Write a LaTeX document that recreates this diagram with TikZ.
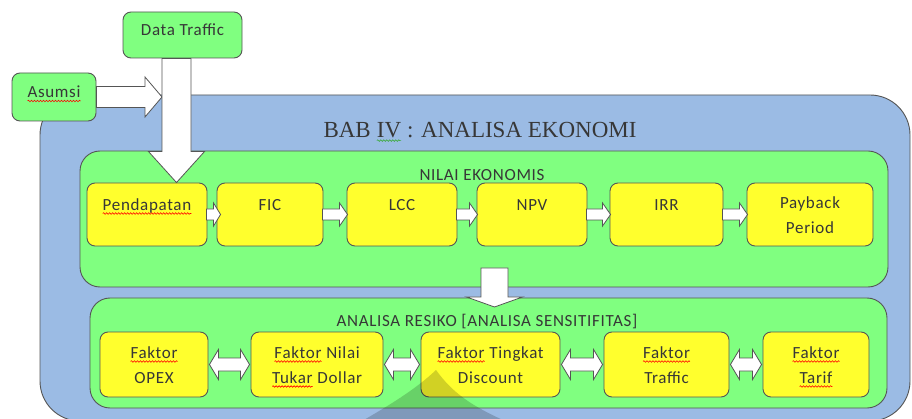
\documentclass[tikz,border=0pt]{standalone}
\usepackage{fontspec}
\setmainfont{Carlito}
\newfontfamily\labelfont[LetterSpace=4]{Carlito}
\newfontfamily\titlefont{Liberation Serif}
\usetikzlibrary{calc,decorations.pathmorphing}

\definecolor{frameblue}{RGB}{155,187,228}
\definecolor{panelgreen}{RGB}{128,255,128}
\definecolor{boxyellow}{RGB}{255,255,45}
\definecolor{edgegray}{RGB}{85,85,85}
\definecolor{inkgray}{RGB}{55,55,55}
\definecolor{spellgreen}{RGB}{60,170,60}

\newcommand\boxfont{\labelfont\fontsize{17}{25}\selectfont}

% a word with a wavy proof-reading underline in colour #1
\newcommand\wavy[2]{\tikz[baseline=(w.base)]{%
  \node[draw=none, fill=none, inner sep=0pt, outer sep=0pt, minimum width=0pt,
        minimum height=0pt, text height=, text depth=, rounded corners=0pt] (w) {#2};
  \draw[#1, line width=0.6pt, rounded corners=0pt, decorate,
        decoration={snake, amplitude=0.8pt, segment length=3pt}]
    ([yshift=-3pt]w.base west) -- ([yshift=-3pt]w.base east);}}

% horizontal block arrow from #1 to #2 (shaft half-height #3, head half-height #4, head length #5)
\newcommand\blockright[5]{%
  \path[blockarrow] let \p1=(#1), \p2=(#2) in
    (\x1,\y1+#3) -- (\x2-#5,\y1+#3) -- (\x2-#5,\y1+#4) -- (\x2,\y1)
    -- (\x2-#5,\y1-#4) -- (\x2-#5,\y1-#3) -- (\x1,\y1-#3) -- cycle;}
% double-headed block arrow between #1 and #2
\newcommand\blockboth[5]{%
  \path[blockarrow] let \p1=(#1), \p2=(#2) in
    (\x1,\y1) -- (\x1+#5,\y1+#4) -- (\x1+#5,\y1+#3) -- (\x2-#5,\y1+#3)
    -- (\x2-#5,\y1+#4) -- (\x2,\y1) -- (\x2-#5,\y1-#4) -- (\x2-#5,\y1-#3)
    -- (\x1+#5,\y1-#3) -- (\x1+#5,\y1-#4) -- cycle;}
% downward block arrow from #1 to #2
\newcommand\blockdown[5]{%
  \path[blockarrow] let \p1=(#1), \p2=(#2) in
    (\x1-#3,\y1) -- (\x1-#3,\y2+#5) -- (\x1-#4,\y2+#5) -- (\x1,\y2)
    -- (\x1+#4,\y2+#5) -- (\x1+#3,\y2+#5) -- (\x1+#3,\y1) -- cycle;}

\tikzset{
  frame/.style={draw=edgegray, fill=frameblue, line width=0.9pt, rounded corners=40pt},
  panel/.style={draw=edgegray, fill=panelgreen, line width=0.9pt, rounded corners=20pt},
  stepbox/.style={draw=edgegray, fill=boxyellow, line width=0.9pt, rounded corners=8pt,
    inner sep=0pt, align=center, font=\boxfont, text=inkgray},
  oneline/.style={text height=11pt, text depth=19pt},
  twoline/.style={text height=38pt, text depth=0pt},
  inputbox/.style={draw=edgegray, fill=panelgreen, line width=0.9pt, rounded corners=8pt,
    inner sep=0pt, align=center, font=\boxfont, text=inkgray, text height=11pt, text depth=9pt},
  blockarrow/.style={draw=edgegray, fill=white, line width=0.8pt, line join=miter},
  heading/.style={font=\titlefont\fontsize{23}{28}\selectfont, text=inkgray, inner sep=0pt},
  paneltitle/.style={font=\boxfont, text=inkgray, inner sep=0pt},
}

\begin{document}
\begin{tikzpicture}[x=1pt, y=-1pt]
\useasboundingbox (0,0) rectangle (912,419);
\fill[white] (0,0) rectangle (912,419);

% outer chapter frame and its title
\draw[frame] (40,95) rectangle (910,421);
\node[heading] (bab) at (480,132) {BAB \wavy{spellgreen}{IV} : ANALISA EKONOMI};

% economic value panel
\draw[panel] (80,151) rectangle (888,287);
\node[paneltitle] (nilai) at (482,175) {NILAI EKONOMIS};

\node[stepbox, oneline, minimum width=120pt, minimum height=63pt] (pend) at (147,214.5) {\wavy{red}{Pendapatan}};
\node[stepbox, oneline, minimum width=106pt, minimum height=63pt] (fic)  at (270,214.5) {FIC};
\node[stepbox, oneline, minimum width=110pt, minimum height=63pt] (lcc)  at (402,214.5) {LCC};
\node[stepbox, oneline, minimum width=110pt, minimum height=63pt] (npv)  at (532,214.5) {NPV};
\node[stepbox, oneline, minimum width=113pt, minimum height=63pt] (irr)  at (666.5,214.5) {IRR};
\node[stepbox, twoline, minimum width=126pt, minimum height=63pt] (pay)  at (810,214.5) {Payback\\Period};

\blockright{[xshift=-1pt]pend.east}{[xshift=4pt]fic.west}{5.5pt}{11.5pt}{7pt}
\blockright{[xshift=-1pt]fic.east}{[xshift=1pt]lcc.west}{5.5pt}{11.5pt}{8pt}
\blockright{[xshift=-1pt]lcc.east}{[xshift=1pt]npv.west}{5.5pt}{11.5pt}{8pt}
\blockright{[xshift=-1pt]npv.east}{[xshift=1pt]irr.west}{5.5pt}{11.5pt}{8pt}
\blockright{[xshift=-1pt]irr.east}{[xshift=1pt]pay.west}{5.5pt}{11.5pt}{8pt}

% risk / sensitivity panel
\draw[panel] (90,298) rectangle (887,408);
\node[paneltitle] (resiko) at (487,322) {ANALISA RESIKO [ANALISA SENSITIFITAS]};

\node[stepbox, twoline, minimum width=108pt, minimum height=65pt] (opex)  at (154,364.5) {\wavy{red}{Faktor}\\OPEX};
\node[stepbox, twoline, minimum width=132pt, minimum height=65pt] (kurs)  at (317,364.5) {\wavy{red}{Faktor} Nilai\\\wavy{red}{Tukar} Dollar};
\node[stepbox, twoline, minimum width=139pt, minimum height=65pt] (disc)  at (490.5,364.5) {\wavy{red}{Faktor} Tingkat\\Discount};
\node[stepbox, twoline, minimum width=125pt, minimum height=65pt] (traf)  at (666.5,364.5) {\wavy{red}{Faktor}\\Traffic};
\node[stepbox, twoline, minimum width=106pt, minimum height=65pt] (tarif) at (816,364.5) {\wavy{red}{Faktor}\\\wavy{red}{Tarif}};

\blockboth{[xshift=1pt]opex.east}{[xshift=-1pt]kurs.west}{6.5pt}{15pt}{9pt}
\blockboth{[xshift=1pt]kurs.east}{[xshift=-1pt]disc.west}{6.5pt}{15pt}{9pt}
\blockboth{[xshift=1pt]disc.east}{[xshift=-1pt]traf.west}{6.5pt}{15pt}{9pt}
\blockboth{[xshift=1pt]traf.east}{[xshift=-1pt]tarif.west}{6.5pt}{15pt}{9pt}

% hand-over arrow from the value panel to the risk panel
\coordinate (handoff) at (494.5,268);
\coordinate (intake) at (494.5,307);
\blockdown{handoff}{intake}{13.5pt}{28pt}{10pt}

% inputs
\node[inputbox, minimum width=84pt, minimum height=48pt] (asumsi) at (54,97) {\wavy{red}{Asumsi}};
\coordinate (merge) at (162,97);
\blockright{asumsi.east}{merge}{10.5pt}{20pt}{17pt}

\node[inputbox, minimum width=119pt, minimum height=46pt] (traffic) at (182.5,35) {Data Traffic};
\coordinate (drop) at (176.5,0);
\blockdown{traffic.south -| drop}{pend.north -| drop}{14.5pt}{28pt}{31pt}

% translucent wedge along the lower edge
\fill[black, opacity=0.18] (436,370) .. controls (415,390) and (388,406) .. (357,424)
  -- (512,424) .. controls (470,406) and (452,392) .. (436,370) -- cycle;
\end{tikzpicture}
\end{document}
